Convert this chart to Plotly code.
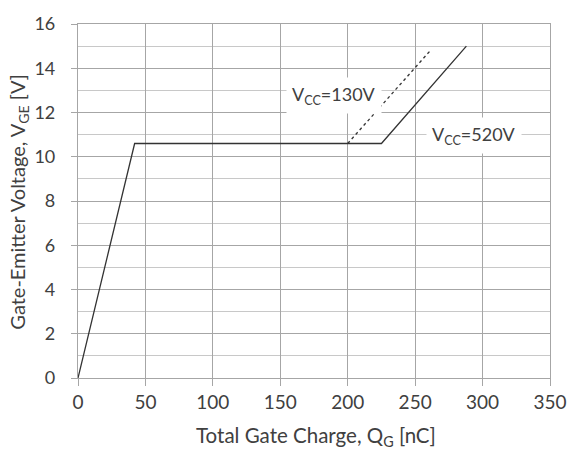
import plotly.graph_objects as go

# Data
qg_520 = [0, 42, 225, 288]
vge_520 = [0, 10.6, 10.6, 15.0]
qg_130 = [200, 262]
vge_130 = [10.6, 14.85]
x_ticks = [0, 50, 100, 150, 200, 250, 300, 350]
y_ticks = [0, 2, 4, 6, 8, 10, 12, 14, 16]

FONT = "Lato"
TXT = "#404040"
LINE = "#333333"
GRID = "#a6a6a6"
MINOR = "#c8c8c8"

fig = go.Figure()
fig.add_trace(go.Scatter(x=qg_520, y=vge_520, mode="lines",
                         line=dict(color=LINE, width=1.3), showlegend=False))
fig.add_trace(go.Scatter(x=qg_130, y=vge_130, mode="lines",
                         line=dict(color=LINE, width=1.3, dash="dot"), showlegend=False))

fig.add_annotation(x=190, y=12.75, text="V<sub>CC</sub>=130V", showarrow=False,
                   font=dict(family=FONT, size=18, color=TXT), bgcolor="white", borderpad=5)
fig.add_annotation(x=294, y=10.95, text="V<sub>CC</sub>=520V", showarrow=False,
                   font=dict(family=FONT, size=18, color=TXT), bgcolor="white", borderpad=5)

# axis titles
fig.add_annotation(xref="paper", yref="paper", x=0.505, y=-0.165, yanchor="middle",
                   text="Total Gate Charge, Q<sub>G</sub> [nC]", showarrow=False,
                   font=dict(family=FONT, size=20.5, color=TXT))
fig.add_annotation(xref="paper", yref="paper", x=-0.128, y=0.497, xanchor="center", yanchor="middle",
                   textangle=-90, text="Gate-Emitter Voltage, V<sub>GE</sub> [V]", showarrow=False,
                   font=dict(family=FONT, size=20, color=TXT))

fig.update_layout(
    width=579, height=453,
    margin=dict(l=78, r=17, t=16, b=75),
    plot_bgcolor="white", paper_bgcolor="white",
    font=dict(family=FONT, size=19, color=TXT),
    xaxis=dict(range=[0, 350], tickvals=x_ticks, showgrid=True, gridcolor=GRID, gridwidth=1.2,
               showline=True, linecolor=GRID, linewidth=1.2, mirror=True,
               ticks="outside", ticklen=7, tickcolor=GRID, tickwidth=1.2,
               zeroline=False, ticklabelstandoff=0),
    yaxis=dict(range=[0, 16], tickvals=y_ticks, showgrid=True, gridcolor=GRID, gridwidth=1.2,
               showline=True, linecolor=GRID, linewidth=1.2, mirror=True,
               ticks="outside", ticklen=6, tickcolor=GRID, tickwidth=1.2,
               zeroline=False, ticklabelstandoff=12, tickfont=dict(size=18),
               minor=dict(dtick=1, showgrid=True, gridcolor=MINOR, gridwidth=1.2)),
)

fig.write_html("out.html")
